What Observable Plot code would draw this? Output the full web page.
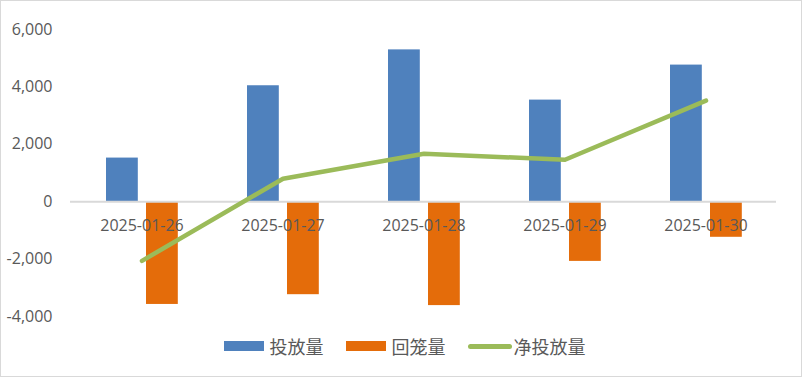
<!DOCTYPE html>
<html>
<head>
<meta charset="utf-8">
<script src="https://cdn.jsdelivr.net/npm/d3@7"></script>
<script src="https://cdn.jsdelivr.net/npm/@observablehq/plot@0.6"></script>
<style>
  html, body { margin: 0; padding: 0; background: #fff; }
  #frame { position: relative; width: 802px; height: 377px; box-sizing: border-box; border: 1px solid #d9d9d9; background: #fff; overflow: hidden; }
  #legend { display: flex; justify-content: center; align-items: center; height: 30px; padding-left: 7px;
    font-family: "Noto Sans CJK SC", sans-serif; font-size: 18px; color: #595959; }
  .item { display: flex; align-items: center; }
  .sw { width: 40px; height: 10px; margin-right: 6px; }
  .ln { width: 44px; height: 5px; border-radius: 3px; margin-right: 2px; }
  .gap { width: 22px; }
</style>
</head>
<body>
<div id="frame"><div id="chart"></div><div id="legend"></div></div>
<script>
const dates = ["2025-01-26", "2025-01-27", "2025-01-28", "2025-01-29", "2025-01-30"];
const issued = [1520, 4040, 5290, 3540, 4760];        // 投放量
const withdrawn = [-3580, -3240, -3620, -2080, -1240]; // 回笼量
const net = [-2060, 800, 1670, 1460, 3520];            // 净投放量
const seriesNames = ["投放量", "回笼量", "净投放量"];
const colors = ["#4f81bd", "#e46c0a", "#9bbb59"];
const yTicks = [-4000, -2000, 0, 2000, 4000, 6000];

const rows = (vals) => dates.map((d, i) => ({date: d, value: vals[i]}));

const plot = Plot.plot({
  width: 800,
  height: 330,
  marginLeft: 69,
  marginRight: 25,
  marginTop: 28,
  marginBottom: 15,
  style: {fontFamily: "'Open Sans', sans-serif", fontSize: "16px", color: "#595959", background: "#fff"},
  x: {type: "band", domain: dates, padding: 0, label: null},
  y: {domain: [-4000, 6000], label: null},
  marks: [
    Plot.axisX({ticks: [], label: null}),
    Plot.axisY({ticks: yTicks, tickSize: 0, tickPadding: 18, tickFormat: d => d.toLocaleString("en-US"), fill: "#595959", fontSize: 16, label: null}),
    Plot.barY(rows(issued), {x: "date", y: "value", fill: colors[0], insetLeft: 35, insetRight: 74.2}),
    Plot.barY(rows(withdrawn), {x: "date", y: "value", fill: colors[1], insetLeft: 75, insetRight: 34.2}),
    Plot.ruleY([0], {stroke: "#d9d9d9", strokeWidth: 2}),
    Plot.text(dates, {x: d => d, y: () => 0, dy: 24, text: d => d, fill: "#595959", fontSize: 16}),
    Plot.line(rows(net), {x: "date", y: "value", stroke: colors[2], strokeWidth: 4.5, strokeLinecap: "round", strokeLinejoin: "round"})
  ]
});
document.getElementById("chart").appendChild(plot);

const legend = document.getElementById("legend");
seriesNames.forEach((name, i) => {
  const item = document.createElement("div");
  item.className = "item";
  const sw = document.createElement("div");
  sw.className = i === 2 ? "ln" : "sw";
  sw.style.background = colors[i];
  const t = document.createElement("span");
  t.textContent = name;
  item.appendChild(sw);
  item.appendChild(t);
  legend.appendChild(item);
  if (i < seriesNames.length - 1) {
    const g = document.createElement("div");
    g.className = "gap";
    legend.appendChild(g);
  }
});
</script>
</body>
</html>
